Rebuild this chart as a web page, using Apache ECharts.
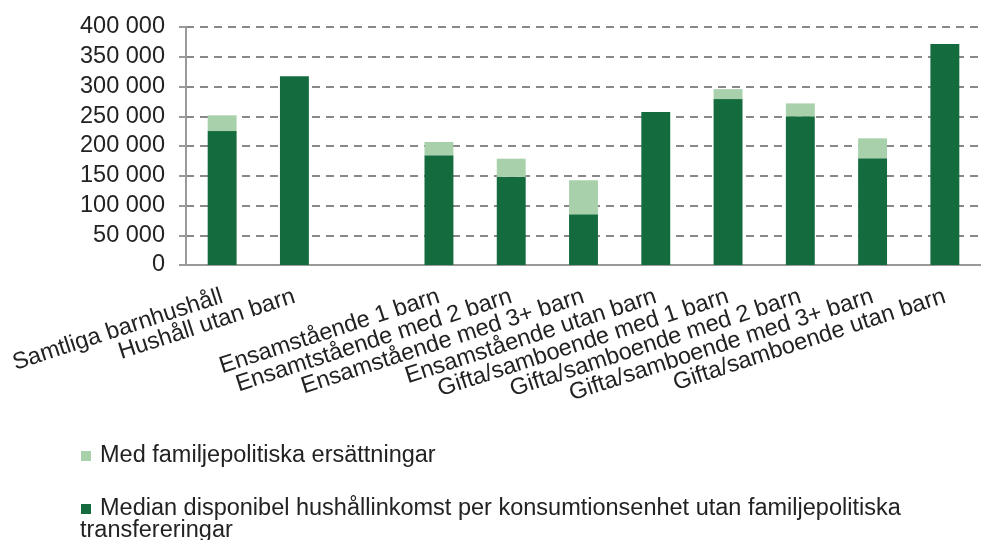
<!DOCTYPE html>
<html><head><meta charset="utf-8">
<script src="https://cdn.jsdelivr.net/npm/echarts@6/dist/echarts.min.js"></script>
<style>html,body{margin:0;padding:0;background:#fff}#c{width:981px;height:540px}</style>
</head><body><div id="c"></div>
<script>
const categories = ["Samtliga barnhushåll","Hushåll utan barn","","Ensamstående 1 barn","Ensamtstående med 2 barn","Ensamstående med 3+ barn","Ensamstående utan barn","Gifta/samboende med 1 barn","Gifta/samboende med 2 barn","Gifta/samboende med 3+ barn","Gifta/samboende utan barn"];
const baseValues = [225100, 317300, null, 184400, 148000, 85500, 257000, 278800, 249800, 179400, 371500];
const extraValues = [26400, null, null, 22300, 30700, 57000, null, 16800, 21800, 33500, null];
const seriesNames = ["Med familjepolitiska ersättningar","Median disponibel hushållinkomst per konsumtionsenhet utan familjepolitiska transfereringar"];
const yTicks = {min: 0, max: 400000, interval: 50000};

const chart = echarts.init(document.getElementById('c'), null, {renderer:'canvas'});
const FONT = '"Liberation Sans", Arial, sans-serif';
chart.setOption({
  animation: false,
  grid: {left: 186, right: 0, top: 27, bottom: 275, containLabel: false},
  legend: {
    orient: 'vertical', left: 76, top: 439,
    itemWidth: 10, itemHeight: 10, itemGap: 29, icon: 'rect',
    data: [seriesNames[0], seriesNames[1]],
    textStyle: {fontFamily: FONT, fontSize: 23.5, color: '#222', padding: [0,0,0,4]},
    formatter: function(n){ return n === seriesNames[1] ? 'Median disponibel hushållinkomst per konsumtionsenhet utan familjepolitiska' : n; }
  },
  graphic: [{type:'text', left: 80, top: 519, style:{text:'transfereringar', font: '23.5px ' + FONT, fill:'#222'}}],
  xAxis: {
    type: 'category', data: categories,
    axisLine: {show: true, lineStyle: {color: '#999', width: 2}},
    axisTick: {show: false},
    axisLabel: {interval: 0, rotate: 18, fontFamily: FONT, fontSize: 23.5, color: '#222', margin: 31}
  },
  yAxis: {
    type: 'value', min: yTicks.min, max: yTicks.max, interval: yTicks.interval,
    axisLine: {show: true, lineStyle: {color: '#999', width: 2}},
    axisTick: {show: true, length: 7, lineStyle: {color: '#999', width: 2}},
    splitLine: {lineStyle: {color: '#888', type: [8, 6], width: 2}},
    axisLabel: {fontFamily: FONT, fontSize: 23.5, color: '#222', margin: 21,
      formatter: v => String(v).replace(/\B(?=(\d{3})+(?!\d))/g, ' ')}
  },
  series: [
    {name: seriesNames[1], type: 'bar', stack: 's', data: baseValues, barWidth: '40%',
     itemStyle: {color: '#146b3e'}},
    {name: seriesNames[0], type: 'bar', stack: 's', data: extraValues, barWidth: '40%',
     itemStyle: {color: '#a8d1ab'}}
  ]
});
</script></body></html>
